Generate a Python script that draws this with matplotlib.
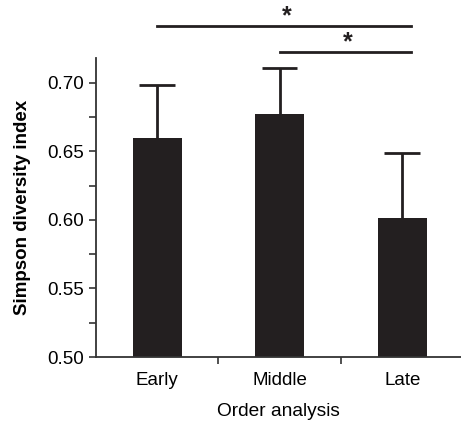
import matplotlib
matplotlib.use('Agg')
import matplotlib.pyplot as plt
import numpy as np
from matplotlib.ticker import MultipleLocator

plt.rcParams['font.family'] = ['Liberation Sans', 'DejaVu Sans']

groups = ['Early', 'Middle', 'Late']
means = [0.660, 0.677, 0.601]
err_up = [0.038, 0.034, 0.048]

# significance brackets: (from, to, height)
sig = [(0, 2.07, 0.7416), (1, 2.07, 0.7226)]

dark = '#231f20'
axc = '#333333'

fig = plt.figure(figsize=(4.61, 4.21), dpi=100)
ax = fig.add_axes([96/461, 1 - 357/421, 365/461, (357 - 58)/421])

x = np.arange(len(groups))
m = np.array(means)
e = np.array(err_up)
ax.bar(x, m, width=0.4, color=dark, zorder=2)
# upper error bars only
ax.vlines(x, m, m + e, color=dark, lw=2, zorder=1)
ax.hlines(m + e, x - 0.145, x + 0.145, color=dark, lw=2, zorder=1)

ax.set_xlim(-0.5, 2.48)
ax.set_ylim(0.5, 0.718)
ax.yaxis.set_minor_locator(MultipleLocator(0.025))
ax.set_yticks([0.50, 0.55, 0.60, 0.65, 0.70])
ax.set_yticklabels(['0.50', '0.55', '0.60', '0.65', '0.70'])
ax.set_xticks([0.5, 1.5], minor=True)
ax.set_xticks(list(x))
ax.set_xticklabels(groups)

for s in ['top', 'right']:
    ax.spines[s].set_visible(False)
for s in ['left', 'bottom']:
    ax.spines[s].set_color(axc)
    ax.spines[s].set_linewidth(1.3)

ax.tick_params(axis='y', which='both', direction='out', length=5, width=1.2,
               color=axc, labelsize=13.5, pad=4)
ax.tick_params(axis='x', which='major', length=0, labelsize=13.5, pad=11)
ax.tick_params(axis='x', which='minor', direction='out', length=5, width=1.2,
               color=axc)

ax.set_ylabel('Simpson diversity index', fontsize=13.5, fontweight='bold',
              labelpad=11)
ax.set_xlabel('Order analysis', fontsize=13.8, labelpad=10)

for x0, x1, h in sig:
    ax.plot([x0, x1], [h, h], color=dark, lw=2, clip_on=False)
    ax.text((x0 + x1) / 2 + 0.02, h + 0.0065, '*', ha='center', va='center',
            fontsize=18, fontweight='bold', color=dark)

fig.savefig('out.png', dpi=100)
